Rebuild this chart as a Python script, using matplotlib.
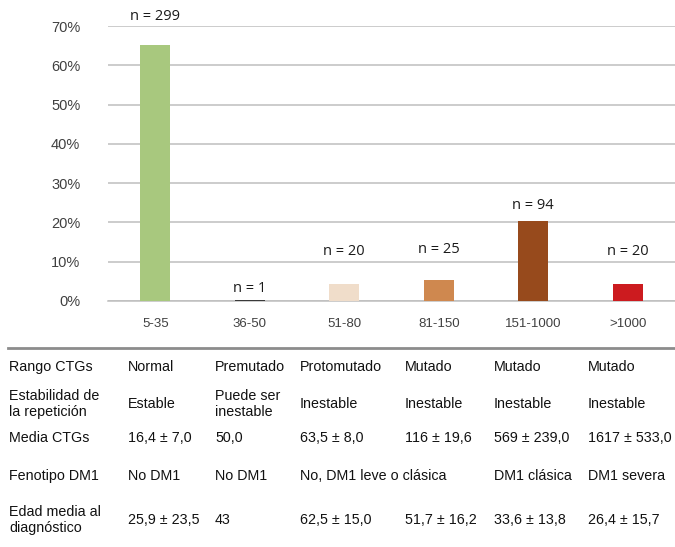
import matplotlib
matplotlib.use("Agg")
import matplotlib.pyplot as plt

# CTG repeat-size groups and patient counts
categories = ["5-35", "36-50", "51-80", "81-150", "151-1000", ">1000"]
counts = [299, 1, 20, 25, 94, 20]
bar_colors = ["#A8C87E", "#3A3A3A", "#F0DDCA", "#CF884F", "#974A1C", "#CC1B1F"]
# heights (in %) where the count labels sit
label_heights = [72.5, 3.3, 12.5, 13.0, 24.4, 12.5]

yticks = [0, 10, 20, 30, 40, 50, 60, 70]

row_labels = ["Rango CTGs", "Estabilidad de\nla repetición", "Media CTGs",
              "Fenotipo DM1", "Edad media al\ndiagnóstico"]
rango = ["Normal", "Premutado", "Protomutado", "Mutado", "Mutado", "Mutado"]
estabilidad = ["Estable", "Puede ser\ninestable", "Inestable", "Inestable",
               "Inestable", "Inestable"]
media_ctgs = ["16,4 ± 7,0", "50,0", "63,5 ± 8,0", "116 ± 19,6",
              "569 ± 239,0", "1617 ± 533,0"]
fenotipo = ["No DM1", "No DM1", "No, DM1 leve o clásica", "", "DM1 clásica",
            "DM1 severa"]
edad = ["25,9 ± 23,5", "43", "62,5 ± 15,0", "51,7 ± 16,2", "33,6 ± 13,8",
        "26,4 ± 15,7"]

total = sum(counts)
pct = [100.0 * c / total for c in counts]

W, H = 675, 547
fig = plt.figure(figsize=(W / 100, H / 100), dpi=100)
fig.patch.set_facecolor("white")

ax = fig.add_axes([108 / W, 1 - 301 / H, 1 - 108 / W, (301 - 26) / H])
x = list(range(len(categories)))
ax.bar(x, pct, width=0.32, color=bar_colors, zorder=3)
ax.set_xlim(-0.5, 5.5)
ax.set_ylim(0, 70)
ax.set_yticks(yticks)
ax.set_yticklabels([f"{v}%" for v in yticks], fontsize=10.5,
                   family="Liberation Sans", color="#404040")
ax.set_xticks(x)
ax.set_xticklabels(categories, fontsize=9.5, family="Liberation Sans",
                   color="#404040")
ax.tick_params(axis="both", length=0)
ax.tick_params(axis="y", pad=20)
ax.tick_params(axis="x", pad=12)
ax.grid(axis="y", color="#BEBEBE", linewidth=1.1, zorder=0)
for s in ["top", "right", "left"]:
    ax.spines[s].set_visible(False)
ax.spines["bottom"].set_color("#BEBEBE")
ax.spines["bottom"].set_linewidth(1.1)

for xi, c, ly in zip(x, counts, label_heights):
    ax.text(xi, ly, f"n = {c}", ha="center", va="center", fontsize=10.5,
            family="Open Sans", color="#1a1a1a")

# table below the chart
fig.add_artist(plt.Line2D([8 / W, 1.0], [1 - 348 / H, 1 - 348 / H],
                          color="#8C8C8C", linewidth=2.0))

def fx(px):
    return px / W

def fy(py):
    return 1 - py / H

tk = dict(fontsize=10.3, family="Liberation Sans", color="#111111", va="center",
          ha="left", linespacing=1.15)
row_y = [367, 404, 438, 476, 520]
col_x = [128, 215, 300, 405, 494, 588]
for lab, ry in zip(row_labels, row_y):
    fig.text(fx(9), fy(ry), lab, **tk)
for row, ry in zip([rango, estabilidad, media_ctgs, fenotipo, edad], row_y):
    for val, cx in zip(row, col_x):
        if val:
            fig.text(fx(cx), fy(ry), val, **tk)

fig.savefig("out.png", dpi=100, facecolor="white")
